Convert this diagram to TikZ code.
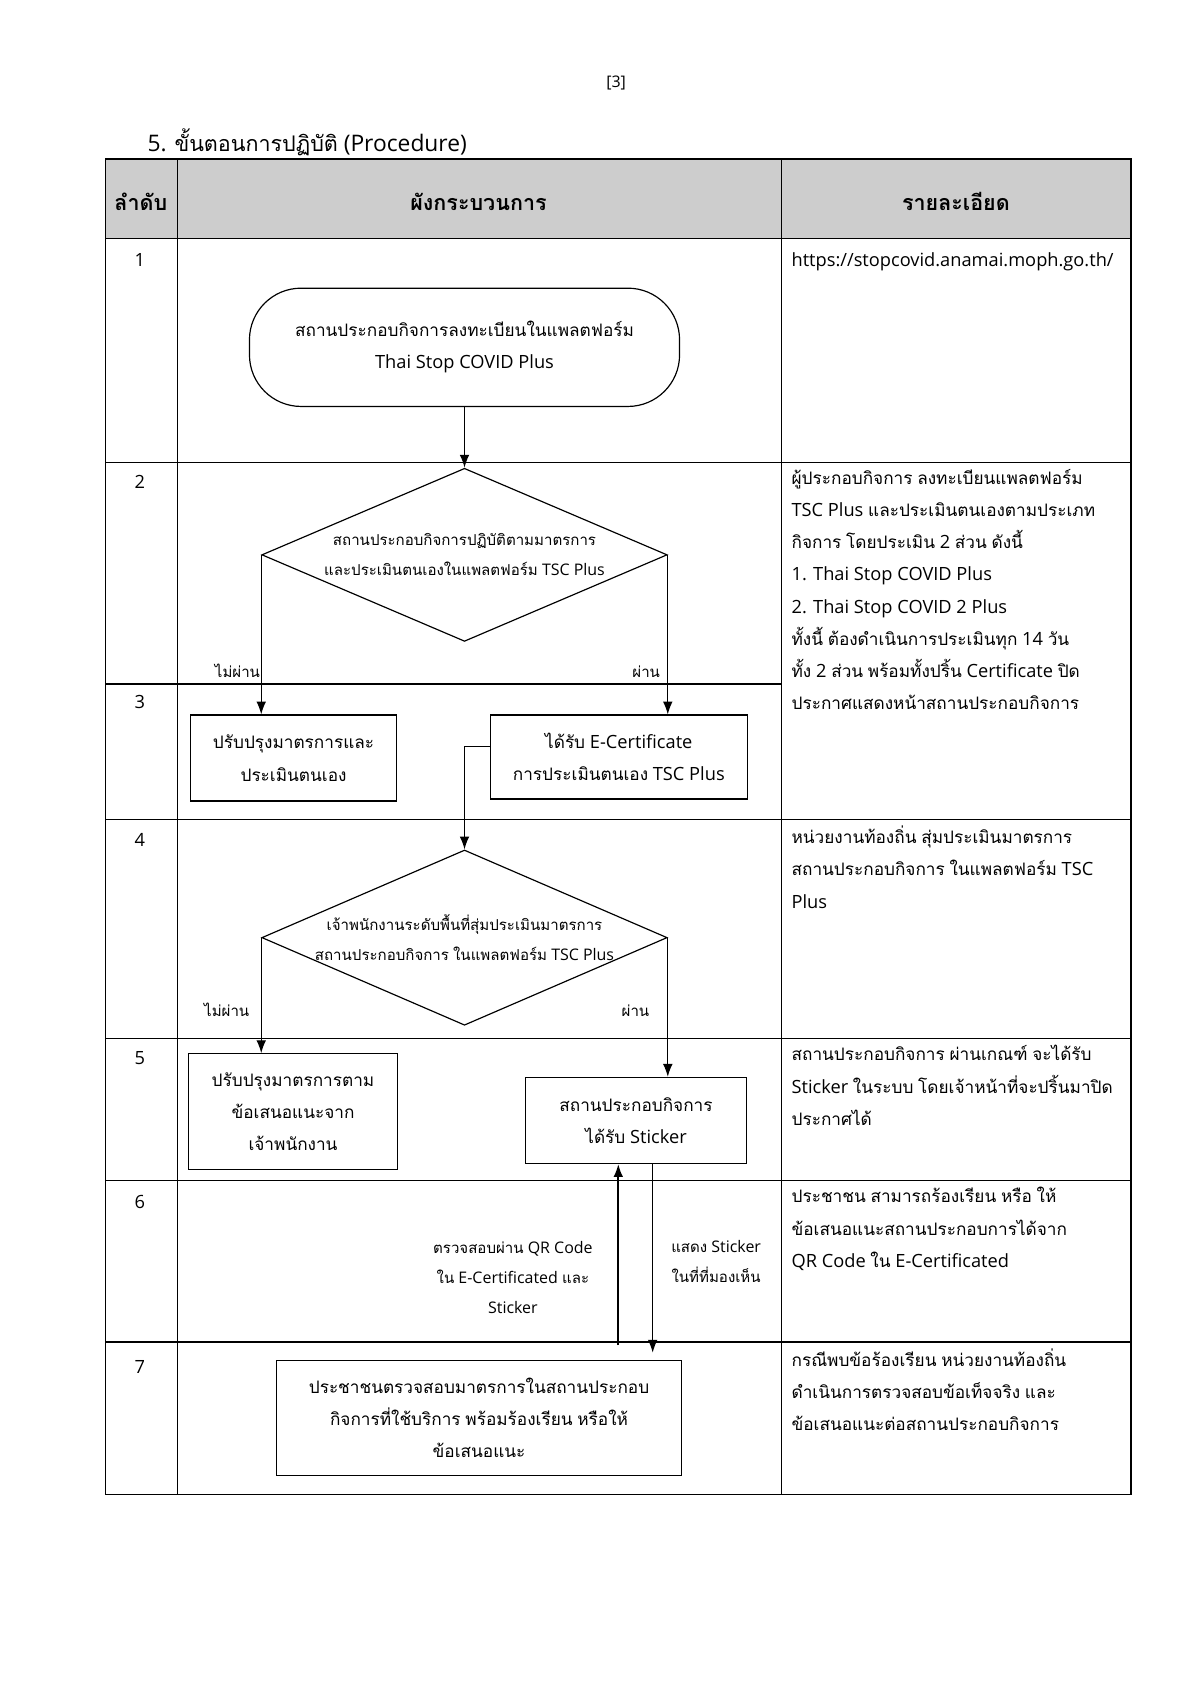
\documentclass[tikz,border=0pt]{standalone}
\usepackage{fontspec}
\setmainfont{Open Sans}[Scale=1.06]
\newfontfamily\thaifont[Script=Thai]{Loma}
\newfontfamily\latinfont{Open Sans}[Scale=1.06]
\XeTeXinterchartokenstate=1
\newXeTeXintercharclass\thaicls
\newcount\thaich
\thaich="0E00
\loop\ifnum\thaich<"0E80
  \XeTeXcharclass\thaich=\thaicls
  \advance\thaich by 1
\repeat
\XeTeXinterchartoks 0 \thaicls = {\thaifont}
\XeTeXinterchartoks 4095 \thaicls = {\thaifont}
\XeTeXinterchartoks \thaicls 0 = {\latinfont}
\XeTeXinterchartoks \thaicls 4095 = {\latinfont}
\usetikzlibrary{positioning}
\usetikzlibrary{shapes.geometric}
\usetikzlibrary{arrows.meta}
\tikzset{>={Latex[length=12pt,width=9pt]}}
\definecolor{headgray}{HTML}{CDCDCD}
\newcommand{\txtbody}{\fontsize{16}{30}\selectfont}
\newcommand{\txtdec}{\fontsize{14}{28}\selectfont}
\newcommand{\txtlbl}{\fontsize{14}{20}\selectfont}
\tikzset{
  procbox/.style={draw, line width=1.1pt, align=center, font=\txtbody, inner sep=0pt},
  termbox/.style={procbox, rounded corners=48pt},
  decbox/.style={draw, diamond, line width=1.1pt, inner sep=0pt},
  dectext/.style={align=center, font=\txtdec, inner sep=0pt},
  desctext/.style={anchor=north west, align=left, font=\txtbody, inner sep=0pt, execute at begin node=\strut},
  passlbl/.style={anchor=base east, font=\txtlbl, inner sep=0pt},
  flow/.style={->, line width=1.1pt},
  grid/.style={line width=1.3pt},
}

\begin{document}
\begin{tikzpicture}[x=1pt, y=-1pt]
\useasboundingbox (0,0) rectangle (1116,1568);
\node[font=\fontsize{14}{18}\selectfont, anchor=base] (pageno) at (573,81) {[3]};
\node[font=\fontsize{20}{26}\selectfont, anchor=base west, inner sep=0pt] (title) at (137,141) {5. ขั้นตอนการปฏิบัติ (Procedure)};

\fill[headgray] (98,148) rectangle (1052,222);
\draw[grid] (98,148) rectangle (1052,1390);
\foreach \x in {165,727} \draw[grid] (\x,148) -- (\x,1390);
\foreach \y in {222,430,762,966,1098,1248} \draw[grid] (98,\y) -- (1052,\y);
\draw[grid] (98,636) -- (727,636);

\node[font=\fontsize{20}{24}\selectfont\bfseries, anchor=base] (hno) at (131,196) {ลำดับ};
\node[font=\fontsize{20}{24}\selectfont\bfseries, anchor=base] (hflow) at (445,196) {ผังกระบวนการ};
\node[font=\fontsize{20}{24}\selectfont\bfseries, anchor=base] (hdesc) at (889,196) {รายละเอียด};
\foreach \n/\y in {1/248,2/454,3/659,4/787,5/990,6/1124,7/1277}
  \node[font=\txtbody, anchor=base] (no\n) at (130,\y) {\n};

\node[desctext] (d1) at (736,227) {https://stopcovid.anamai.moph.go.th/};
\node[desctext] (d2) at (736,436) {ผู้ประกอบกิจการ ลงทะเบียนแพลตฟอร์ม\\TSC Plus และประเมินตนเองตามประเภท\\กิจการ โดยประเมิน 2 ส่วน ดังนี้\\1. Thai Stop COVID Plus\\2. Thai Stop COVID 2 Plus\\ทั้งนี้ ต้องดำเนินการประเมินทุก 14 วัน\\ทั้ง 2 ส่วน พร้อมทั้งปริ้น Certificate ปิด\\ประกาศแสดงหน้าสถานประกอบกิจการ};
\node[desctext] (d4) at (736,768) {หน่วยงานท้องถิ่น สุ่มประเมินมาตรการ\\สถานประกอบกิจการ ในแพลตฟอร์ม TSC\\Plus};
\node[desctext] (d5) at (736,972) {สถานประกอบกิจการ ผ่านเกณฑ์ จะได้รับ\\Sticker ในระบบ โดยเจ้าหน้าที่จะปริ้นมาปิด\\ประกาศได้};
\node[desctext] (d6) at (736,1104) {ประชาชน สามารถร้องเรียน หรือ ให้\\ข้อเสนอแนะสถานประกอบการได้จาก\\QR Code ใน E-Certificated};
\node[desctext] (d7) at (736,1254) {กรณีพบข้อร้องเรียน หน่วยงานท้องถิ่น\\ดำเนินการตรวจสอบข้อเท็จจริง และ\\ข้อเสนอแนะต่อสถานประกอบกิจการ};

\node[termbox, minimum width=400pt, minimum height=110pt] (reg) at (432,323) {สถานประกอบกิจการลงทะเบียนในแพลตฟอร์ม\\Thai Stop COVID Plus};
\node[decbox, minimum width=377pt, minimum height=161pt] (selfchk) at (432,516) {};
\node[dectext] (selfchktxt) at (selfchk) {สถานประกอบกิจการปฏิบัติตามมาตรการ\\และประเมินตนเองในแพลตฟอร์ม TSC Plus};
\node[procbox, minimum width=192pt, minimum height=80pt] (fixself) at (273,705) {ปรับปรุงมาตรการและ\\ประเมินตนเอง};
\node[procbox, minimum width=239pt, minimum height=78pt] (ecert) at (575.5,704) {ได้รับ E-Certificate\\การประเมินตนเอง TSC Plus};
\node[decbox, minimum width=377pt, minimum height=163pt] (audit) at (432,872) {};
\node[dectext] (audittxt) at (audit) {เจ้าพนักงานระดับพื้นที่สุ่มประเมินมาตรการ\\สถานประกอบกิจการ ในแพลตฟอร์ม TSC Plus};
\node[procbox, minimum width=195pt, minimum height=108pt] (fixoff) at (272.5,1034) {ปรับปรุงมาตรการตาม\\ข้อเสนอแนะจาก\\เจ้าพนักงาน};
\node[procbox, minimum width=205pt, minimum height=80pt] (sticker) at (591.5,1042) {สถานประกอบกิจการ\\ได้รับ Sticker};
\node[procbox, minimum width=377pt, minimum height=107pt] (people) at (445.5,1318.5) {ประชาชนตรวจสอบมาตรการในสถานประกอบ\\กิจการที่ใช้บริการ พร้อมร้องเรียน หรือให้\\ข้อเสนอแนะ};

\node[passlbl] (fail1) at (242,630) {ไม่ผ่าน};
\node[passlbl] (pass1) at (614,630) {ผ่าน};
\node[passlbl] (fail2) at (232,945) {ไม่ผ่าน};
\node[passlbl] (pass2) at (604,945) {ผ่าน};
\node[dectext] (scanlbl) at (477,1188) {ตรวจสอบผ่าน QR Code\\ใน E-Certificated และ\\Sticker};
\node[dectext] (showlbl) at (666,1173) {แสดง Sticker\\ในที่ที่มองเห็น};

\coordinate (scanup) at (575,1251);
\coordinate (showdn) at (607,1258);

\draw[flow] (reg) -- (selfchk);
\draw[flow] (selfchk.west) -- (selfchk.west |- fixself.north);
\draw[flow] (selfchk.east) -- (selfchk.east |- ecert.north);
\draw[flow] ([yshift=10pt]ecert.west) -| (audit.north);
\draw[flow] (audit.west) -- (audit.west |- fixoff.north);
\draw[flow] (audit.east) -- (audit.east |- sticker.north);
\draw[flow, line width=1.8pt] (scanup) -- (scanup |- sticker.south);
\draw[flow] (sticker.south -| showdn) -- (showdn);
\end{tikzpicture}
\end{document}
